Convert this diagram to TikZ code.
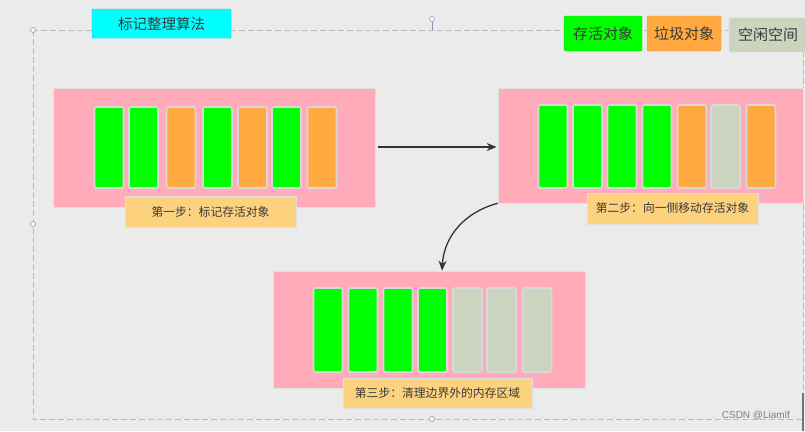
\documentclass[tikz,border=0pt]{standalone}
\usepackage{fontspec}
\setmainfont{Noto Sans CJK SC}
\newfontfamily\wmfont{Liberation Sans}
\usetikzlibrary{arrows.meta}
\definecolor{bgc}{HTML}{EBEBEB}
\definecolor{livec}{HTML}{00FF00}
\definecolor{garbc}{HTML}{FFA940}
\definecolor{freec}{HTML}{CCD3BF}
\definecolor{pinkc}{HTML}{FFABB9}
\definecolor{labc}{HTML}{FDD27F}
\definecolor{cyanc}{HTML}{00FFFF}
\definecolor{txtc}{HTML}{3A3A3A}
\definecolor{framec}{HTML}{BBBBBB}
\definecolor{handc}{HTML}{8896B0}
\tikzset{
  cellbox/.style={draw=black!15, line width=1.6pt, rounded corners=2pt, minimum width=29pt, inner sep=0pt},
  blockbox/.style={fill=pinkc, draw=black!12, line width=0.6pt, inner sep=0pt},
  labbox/.style={fill=labc, draw=black!12, line width=0.6pt, inner sep=0pt, minimum height=31pt, font=\fontsize{11.8pt}{13pt}\selectfont, text=txtc},
  legbox/.style={rounded corners=1.5pt, inner sep=0pt, minimum height=35pt, font=\fontsize{15pt}{17pt}\selectfont, text=txtc},
  arr/.style={draw=black!80, line width=1.3pt, -{Stealth[length=10pt,width=8pt]}},
  handle/.style={circle, draw=handc, fill=white, line width=0.6pt, minimum size=5pt, inner sep=0pt},
}
\begin{document}
\begin{tikzpicture}[x=1pt,y=-1pt]
\fill[bgc] (0,0) rectangle (805,431);
\useasboundingbox (0,0) rectangle (805,431);
% frame
\draw[framec, line width=1pt, dash pattern=on 6pt off 3pt] (33,30) rectangle (803,419);
\draw[handc, line width=0.6pt] (432,19) -- (432,30);
\node[handle] (h1) at (33,30) {};
\node[handle] (h2) at (33,224) {};
\node[handle] (h3) at (432,419) {};
\node[handle] (h4) at (432,19) {};
\draw[black!55, line width=2pt] (803,393) -- (803,431);
% title
\node[fill=cyanc, draw=cyanc!80!black, line width=0.4pt, rounded corners=1pt, minimum width=139pt, minimum height=29pt, inner sep=0pt, font=\fontsize{14.5pt}{16pt}\selectfont, text=txtc] (title) at (161.5,23.5) {标记整理算法};
% legend
\node[legbox, fill=livec, draw=livec!80!black, line width=0.4pt, minimum width=78pt] (lg1) at (603,33.5) {存活对象};
\node[legbox, fill=garbc, draw=garbc!85!black, line width=0.4pt, minimum width=74pt] (lg2) at (684,33.5) {垃圾对象};
\node[legbox, fill=freec, draw=black!10, line width=0.6pt, minimum width=78pt] (lg3) at (768,35) {空闲空间};
% block 1
\node[blockbox, minimum width=322pt, minimum height=119pt] (b1) at (214,147.5) {};
\node[cellbox, fill=livec, minimum height=81pt] (c11) at (109,147.5) {};
\node[cellbox, fill=livec, minimum height=81pt] (c12) at (143.5,147.5) {};
\node[cellbox, fill=garbc, minimum height=81pt] (c13) at (181,147.5) {};
\node[cellbox, fill=livec, minimum height=81pt] (c14) at (217.5,147.5) {};
\node[cellbox, fill=garbc, minimum height=81pt] (c15) at (252.5,147.5) {};
\node[cellbox, fill=livec, minimum height=81pt] (c16) at (286.5,147.5) {};
\node[cellbox, fill=garbc, minimum height=81pt] (c17) at (322,147.5) {};
\node[labbox, minimum width=171pt] (l1) at (210.5,211.5) {第一步：标记存活对象};
% block 2
\node[blockbox, minimum width=305pt, minimum height=115pt] (b2) at (650.5,145.5) {};
\node[cellbox, fill=livec, minimum height=83pt] (c21) at (553,146.5) {};
\node[cellbox, fill=livec, minimum height=83pt] (c22) at (587.5,146.5) {};
\node[cellbox, fill=livec, minimum height=83pt] (c23) at (622,146.5) {};
\node[cellbox, fill=livec, minimum height=83pt] (c24) at (657,146.5) {};
\node[cellbox, fill=garbc, minimum height=83pt] (c25) at (692,146.5) {};
\node[cellbox, fill=freec, minimum height=83pt] (c26) at (725.5,146.5) {};
\node[cellbox, fill=garbc, minimum height=83pt] (c27) at (761,146.5) {};
\node[labbox, minimum width=171pt] (l2) at (672.5,208.5) {第二步：向一侧移动存活对象};
% block 3
\node[blockbox, minimum width=312pt, minimum height=117pt] (b3) at (429,329.5) {};
\node[cellbox, fill=livec, minimum height=84pt] (c31) at (328,330) {};
\node[cellbox, fill=livec, minimum height=84pt] (c32) at (363,330) {};
\node[cellbox, fill=livec, minimum height=84pt] (c33) at (398,330) {};
\node[cellbox, fill=livec, minimum height=84pt] (c34) at (432.5,330) {};
\node[cellbox, fill=freec, minimum height=84pt] (c35) at (467.5,330) {};
\node[cellbox, fill=freec, minimum height=84pt] (c36) at (501.5,330) {};
\node[cellbox, fill=freec, minimum height=84pt] (c37) at (537,330) {};
\node[labbox, minimum width=189pt, minimum height=30pt] (l3) at (437.5,393) {第三步：清理边界外的内存区域};
% arrows
\draw[arr, shorten <=3pt, shorten >=1pt] (b1.east |- 0,147) -- (b2.west |- 0,147);
\draw[arr] (b2.south west) .. controls (465,212) and (444,236) .. ([xshift=13pt]b3.north);
% watermark
\node[anchor=east, inner sep=0pt, font=\wmfont\fontsize{10pt}{12pt}\selectfont, text=black!50] (wm) at (790,416) {CSDN @Liamlf};
\end{tikzpicture}
\end{document}
